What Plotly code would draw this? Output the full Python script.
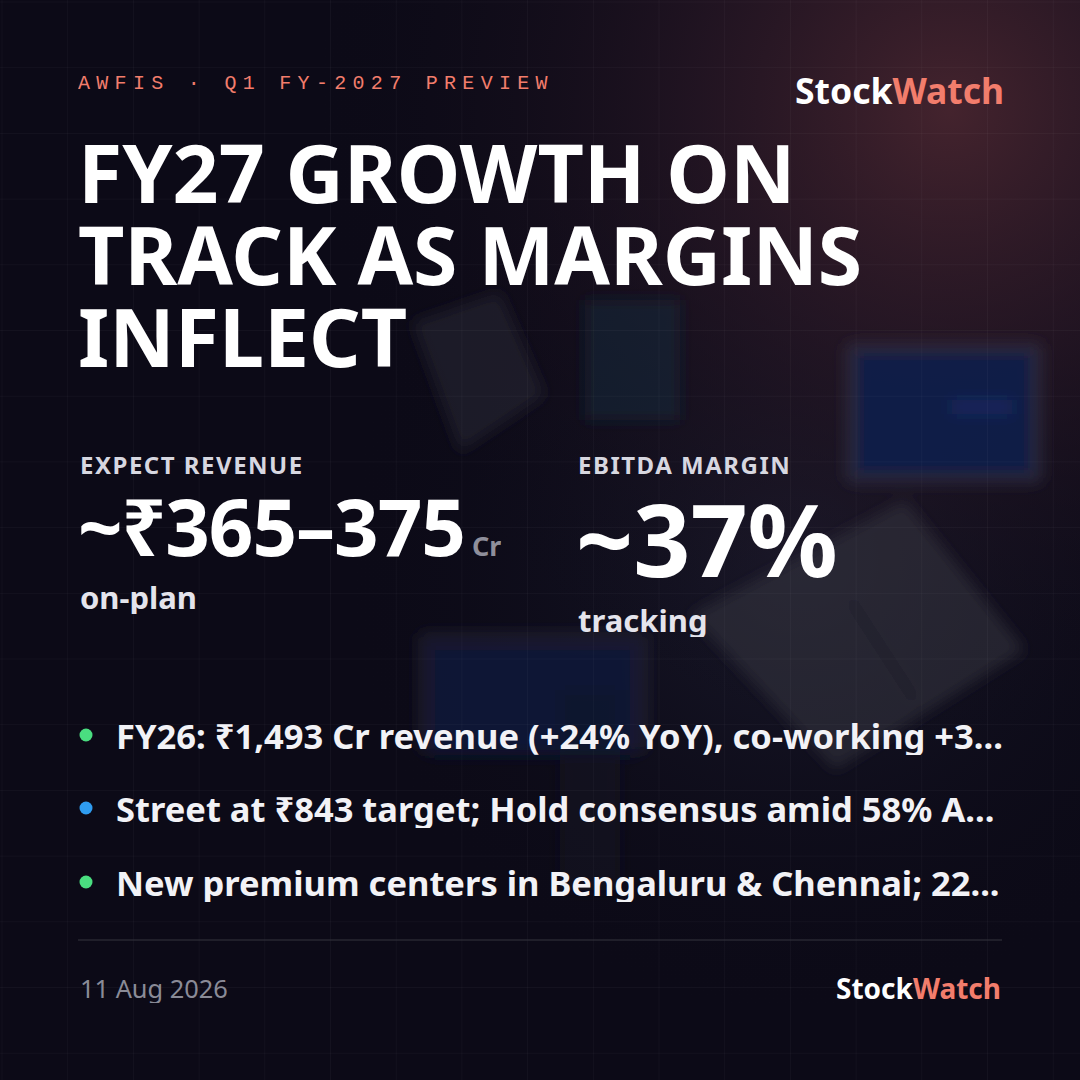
import base64
import plotly.graph_objects as go

# ---- card content ----
kicker = "AWFIS · Q1 FY-2027 PREVIEW"
brand_a = "Stock"
brand_b = "Watch"
headline_lines = ["FY27 GROWTH ON", "TRACK AS MARGINS", "INFLECT"]

metric_labels = ["EXPECT REVENUE", "EBITDA MARGIN"]
metric_values = ["~₹365–375", "~37%"]
metric_units = ["Cr", ""]
metric_notes = ["on-plan", "tracking"]

bullets = [
    "FY26: ₹1,493 Cr revenue (+24% YoY), co-working +3...",
    "Street at ₹843 target; Hold consensus amid 58% A...",
    "New premium centers in Bengaluru & Chennai; 22...",
]
bullet_colors = ["#4ade80", "#2f9cf0", "#4ade80"]
date_text = "11 Aug 2026"

W = H = 1080
SANS = "Noto Sans"
MONO = "Liberation Mono"
SALMON = "#f27d6c"

# ---- background (gradient glow, faint grid, blurred desk objects) ----
grid = "".join(
    f'<line x1="{2 + 65.7 * i:.1f}" y1="0" x2="{2 + 65.7 * i:.1f}" y2="{H}"/>'
    f'<line x1="0" y1="{2 + 65.7 * i:.1f}" x2="{W}" y2="{2 + 65.7 * i:.1f}"/>'
    for i in range(17)
)
bg_svg = f"""<svg xmlns="http://www.w3.org/2000/svg" width="{W}" height="{H}" viewBox="0 0 {W} {H}">
<defs>
<radialGradient id="glow" cx="950" cy="110" r="640" gradientUnits="userSpaceOnUse">
<stop offset="0" stop-color="#4a2630" stop-opacity="0.9"/>
<stop offset="0.4" stop-color="#2c1927" stop-opacity="0.65"/>
<stop offset="1" stop-color="#0c0a17" stop-opacity="0"/>
</radialGradient>
<radialGradient id="mid" cx="800" cy="560" r="460" gradientUnits="userSpaceOnUse">
<stop offset="0" stop-color="#1c1c2e" stop-opacity="0.9"/>
<stop offset="1" stop-color="#0c0a17" stop-opacity="0"/>
</radialGradient>
<filter id="blur"><feGaussianBlur stdDeviation="7"/></filter>
</defs>
<rect width="{W}" height="{H}" fill="#0c0a17"/>
<rect width="{W}" height="{H}" fill="url(#mid)"/>
<rect width="{W}" height="{H}" fill="url(#glow)"/>
<g filter="url(#blur)">
<polygon points="412,322 500,292 545,395 460,452" fill="#2b2a36" opacity="0.55"/>
<rect x="585" y="300" width="95" height="120" fill="#10243a" opacity="0.55"/>
<rect x="845" y="342" width="198" height="142" rx="8" fill="#33334a" opacity="0.55"/>
<rect x="856" y="352" width="176" height="122" fill="#0c1a4a" opacity="0.8"/>
<rect x="952" y="400" width="60" height="14" fill="#1c2e66" opacity="0.7"/>
<polygon points="690,615 905,500 1025,650 835,770" fill="#34333f" opacity="0.55"/>
<line x1="850" y1="600" x2="915" y2="700" stroke="#1a1a24" stroke-width="6" opacity="0.6"/>
<rect x="418" y="632" width="230" height="120" rx="8" fill="#2a2b3c" opacity="0.5"/>
<rect x="430" y="645" width="205" height="110" fill="#0b1536" opacity="0.8"/>
<rect x="560" y="690" width="60" height="200" fill="#1a1a28" opacity="0.4"/>
</g>
<g stroke="#ffffff" stroke-opacity="0.035" stroke-width="1">{grid}</g>
</svg>"""
bg_uri = "data:image/svg+xml;base64," + base64.b64encode(bg_svg.encode("utf-8")).decode()

fig = go.Figure()

# bullet dots
bullet_y = [735, 808, 882]
fig.add_trace(go.Scatter(
    x=[86] * len(bullets), y=bullet_y, mode="markers",
    marker=dict(size=13, color=bullet_colors, line=dict(width=0)),
    hoverinfo="skip", showlegend=False,
))

ann = []


def txt(x, y, text, size, color="#ffffff", family=SANS, weight="normal", xanchor="left", height=None):
    a = dict(x=x, y=y, xref="x", yref="y", text=text, showarrow=False,
             xanchor=xanchor, yanchor="middle", align="left",
             font=dict(family=family, size=size, color=color, weight=weight))
    if height:
        a["height"] = height
    ann.append(a)


# header
txt(76, 83, f'<span style="letter-spacing:6.3px">{kicker}</span>', 20, SALMON, MONO, height=22)
txt(1006, 90, f'{brand_a}<span style="color:{SALMON}">{brand_b}</span>', 35.5, "#ffffff", weight="bold",
    xanchor="right", height=40)

# headline
for i, line in enumerate(headline_lines):
    txt(76, 172 + 82 * i, line, 80.5, "#ffffff", weight="bold", height=78)

# metrics
col_x = [78, 576]
txt(col_x[0], 464, f'<span style="letter-spacing:1.5px">{metric_labels[0]}</span>', 24, "#d7d7e0",
    weight="bold", height=26)
txt(col_x[1], 464, f'<span style="letter-spacing:1.5px">{metric_labels[1]}</span>', 24, "#d7d7e0",
    weight="bold", height=26)
txt(col_x[0] - 2, 526,
    f'<span style="letter-spacing:-1px">{metric_values[0]}</span>'
    f'<span style="font-size:27px;color:#8f8f9b"> {metric_units[0]}</span>',
    78, "#ffffff", weight="bold", height=70)
txt(col_x[1] - 2, 538, metric_values[1], 100, "#ffffff", weight="bold", height=84)
txt(col_x[0], 597, metric_notes[0], 31, "#e4e4ec", weight="bold", height=34)
txt(col_x[1], 620, metric_notes[1], 31, "#e4e4ec", weight="bold", height=34)

# bullets
for y, b in zip(bullet_y, bullets):
    txt(114, y, b, 34.5, "#f2f2f6", weight="bold", height=40)

# footer
txt(78, 988, date_text, 25.4, "#8a8b97", height=30)
txt(1003, 988, f'{brand_a}<span style="color:{SALMON}">{brand_b}</span>', 28, "#ffffff", weight="bold",
    xanchor="right", height=32)

fig.update_layout(
    width=W, height=H,
    margin=dict(l=0, r=0, t=0, b=0),
    paper_bgcolor="#0c0a17", plot_bgcolor="rgba(0,0,0,0)",
    xaxis=dict(range=[0, W], visible=False, fixedrange=True),
    yaxis=dict(range=[H, 0], visible=False, fixedrange=True),
    annotations=ann,
    shapes=[dict(type="line", xref="x", yref="y", x0=78, x1=1002, y0=940, y1=940,
                 line=dict(color="#34343f", width=1.2))],
    images=[dict(source=bg_uri, xref="x", yref="y", x=0, y=0, sizex=W, sizey=H,
                 sizing="stretch", layer="below", xanchor="left", yanchor="top")],
)

fig.write_html("out.html", config={"displayModeBar": False},
               post_script="document.body.style.margin='0';document.body.style.background='#0c0a17';")
